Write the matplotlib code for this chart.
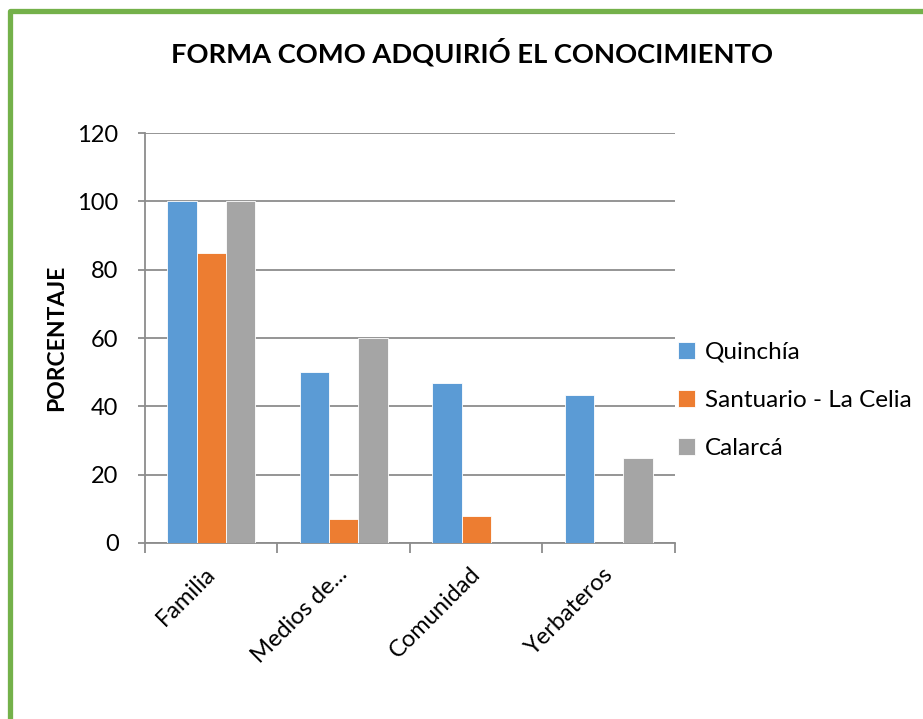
import matplotlib.pyplot as plt
import numpy as np
from matplotlib.patches import Rectangle

plt.rcParams['font.family'] = ['Lato', 'DejaVu Sans']

# --- data ---
categories = ["Familia", "Medios de...", "Comunidad", "Yerbateros"]
series_names = ["Quinchía", "Santuario - La Celia", "Calarcá"]
quinchia = [100, 50, 46.7, 43.3]
santuario = [85, 7, 8, 0]
calarca = [100, 60, 0, 25]
colors = ['#5B9BD5', '#ED7D31', '#A5A5A5']

fig = plt.figure(figsize=(9.23, 7.19), dpi=100)
ax = fig.add_axes([0.1571, 0.2448, 0.5742, 0.5702])

x = np.arange(len(categories))
bw = 0.222
for k, (vals, name) in enumerate(zip([quinchia, santuario, calarca], series_names)):
    ax.bar(x + (k - 1) * bw, vals, width=bw, color=colors[k], label=name,
           edgecolor='white', linewidth=0.6, zorder=3)

ax.set_xlim(-0.5, len(categories) - 0.5)
ax.set_ylim(0, 120)
ax.set_yticks(np.arange(0, 121, 20))
ax.yaxis.grid(True, color='#8C8C8C', linewidth=1.3, zorder=0)
ax.set_axisbelow(True)

for s in ['top', 'right']:
    ax.spines[s].set_visible(False)
for s in ['left', 'bottom']:
    ax.spines[s].set_color('#8C8C8C')
    ax.spines[s].set_linewidth(1.3)

# category boundaries as ticks
ax.set_xticks(np.arange(-0.5, len(categories)))
ax.set_xticklabels([])
ax.tick_params(axis='x', length=7, color='#8C8C8C', width=1.3)
ax.tick_params(axis='y', length=5, color='#8C8C8C', width=1.3, labelsize=17, pad=14)
for i, c in enumerate(categories):
    ax.text(i - 0.05, -6, c, rotation=45, ha='right', va='top',
            rotation_mode='anchor', fontsize=17, transform=ax.transData)

# y axis title
fig.text(57 / 923, 1 - 338 / 719, "PORCENTAJE", rotation=90, ha='center', va='center',
         fontsize=16.5, fontweight='bold')

fig.text(0.511, 0.927, "FORMA COMO ADQUIRIÓ EL CONOCIMIENTO", ha='center', va='center',
         fontsize=19.7, fontweight='bold')

ax.legend(loc='center left', bbox_to_anchor=(0.965, 0.348), frameon=False, fontsize=17.5,
          handlelength=0.7, handleheight=0.7, handletextpad=0.4, labelspacing=1.12)

# green frame (runs off the right and bottom edges)
fig.patches.append(Rectangle((10 / 923, -0.05), 1.1, 1 - 11 / 719 + 0.05,
                             transform=fig.transFigure, fill=False,
                             edgecolor='#74B14A', linewidth=3.8, joinstyle='round'))

fig.savefig("out.png", dpi=100)
